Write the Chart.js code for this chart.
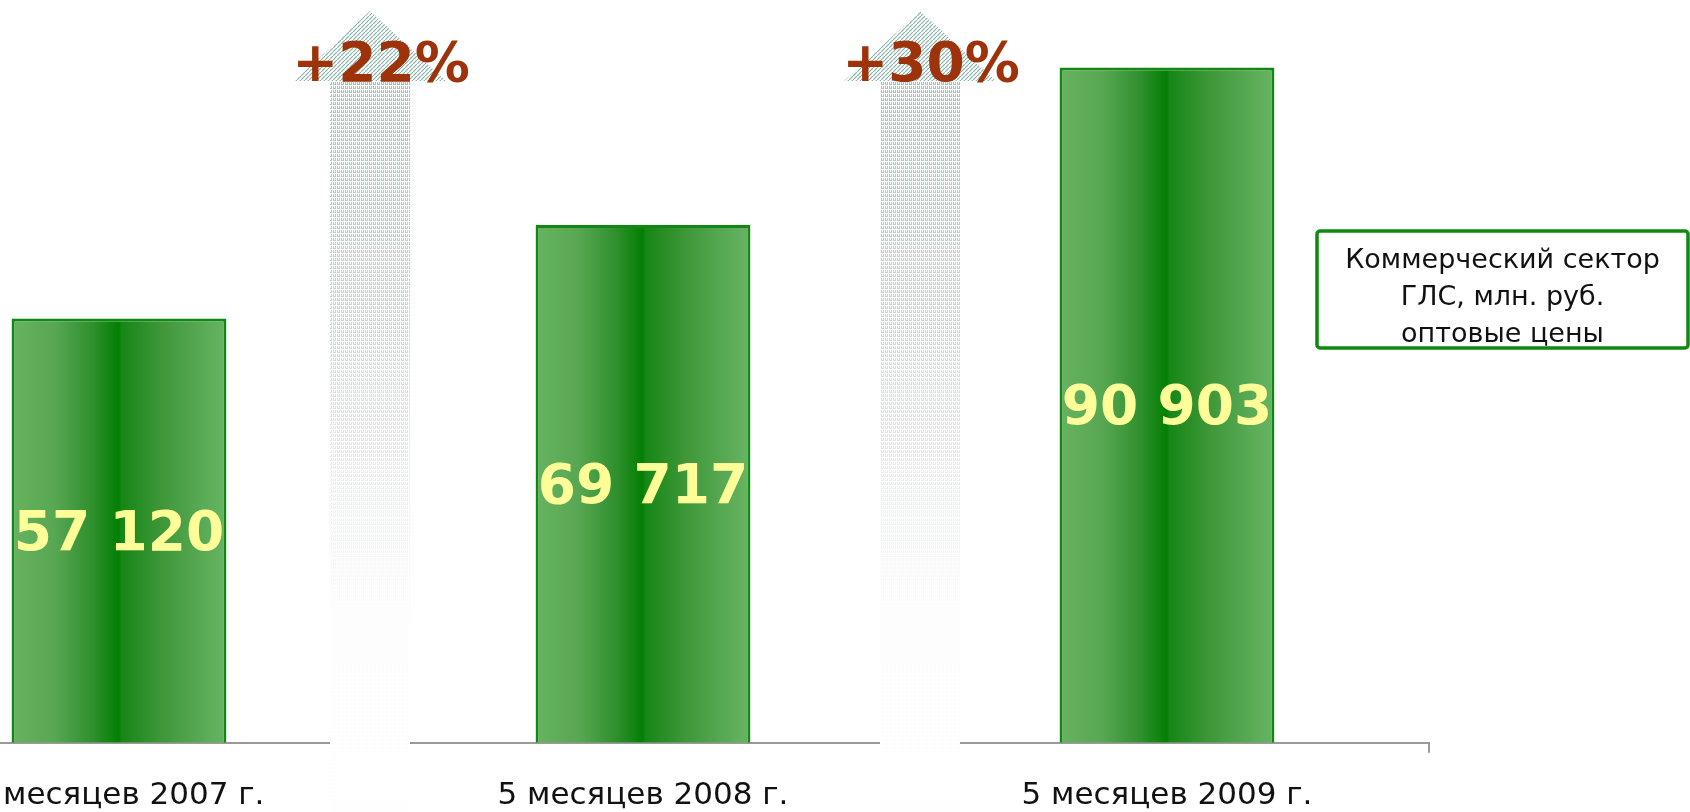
<!DOCTYPE html>
<html>
<head>
<meta charset="utf-8">
<script src="https://cdn.jsdelivr.net/npm/chart.js@4/dist/chart.umd.min.js"></script>
<style>
  html, body { margin: 0; padding: 0; background: #fff; overflow: hidden; width: 1690px; height: 812px; }
  #chart { position: absolute; left: -143px; top: 0; }
</style>
</head>
<body>
<canvas id="chart" width="1833" height="840"></canvas>
<script>
// данные
const categories = ['5 месяцев 2007 г.', '5 месяцев 2008 г.', '5 месяцев 2009 г.'];
const values = [57120, 69717, 90903];
const growthLabels = ['+22%', '+30%'];
const legendLines = ['Коммерческий сектор', 'ГЛС, млн. руб.', 'оптовые цены'];
const yMin = 0;
const yMax = 100000;

const barPct = 0.41;
const font = "'DejaVu Sans', Verdana, sans-serif";

function fmt(v) {
    return String(v).replace(/\B(?=(\d{3})+(?!\d))/g, ' ');
}

// градиент столбика
function barFill(context) {
    const chart = context.chart;
    const x = chart.scales.x;
    if (!x || context.dataIndex === undefined) return '#2f8f2f';
    const cx = x.getPixelForValue(context.dataIndex);
    const half = (x.width / categories.length) * barPct / 2;
    if (!isFinite(cx) || !isFinite(half) || half <= 0) return '#2f8f2f';
    const g = chart.ctx.createLinearGradient(cx - half, 0, cx + half, 0);
    g.addColorStop(0, '#66b260');
    g.addColorStop(0.2, '#58a752');
    g.addColorStop(0.38, '#2e8f2c');
    g.addColorStop(0.5, '#027f02');
    g.addColorStop(0.51, '#168616');
    g.addColorStop(0.7, '#3f9739');
    g.addColorStop(1, '#68b565');
    return g;
}

function makePattern(ctx, kind) {
    const p = document.createElement('canvas');
    p.width = 4; p.height = 4;
    const c = p.getContext('2d');
    c.fillStyle = '#ffffff';
    c.fillRect(0, 0, 4, 4);
    if (kind === 'hatch') {
        c.strokeStyle = '#86b3a8';
        c.lineWidth = 1.2;
        c.beginPath();
        c.moveTo(-1, 5); c.lineTo(5, -1);
        c.stroke();
    } else {
        c.fillStyle = '#a3c6bc';
        c.fillRect(0, 0, 3, 1);
        c.fillRect(0, 2, 1, 2);
        c.fillRect(2, 2, 1, 2);
    }
    return ctx.createPattern(p, 'repeat');
}

// стрелки роста
const arrowsPlugin = {
    id: 'arrows',
    afterDraw(chart, args, opts) {
        const ctx = chart.ctx;
        const x = chart.scales.x;
        const bottom = chart.height;
        ctx.save();
        growthLabels.forEach((lbl, i) => {
            const cx = (x.getPixelForValue(i) + x.getPixelForValue(i + 1)) / 2 + opts.shift[i];
            // стержень
            ctx.fillStyle = '#ffffff';
            ctx.fillRect(cx - opts.shaftHalf, opts.headBase, opts.shaftHalf * 2, bottom - opts.headBase);
            ctx.fillStyle = makePattern(ctx, 'dots');
            ctx.fillRect(cx - opts.shaftHalf, opts.headBase, opts.shaftHalf * 2, bottom - opts.headBase);
            const fade = ctx.createLinearGradient(0, opts.headBase, 0, bottom);
            fade.addColorStop(0, 'rgba(255,255,255,0)');
            fade.addColorStop(0.3, 'rgba(255,255,255,0.35)');
            fade.addColorStop(0.55, 'rgba(255,255,255,0.78)');
            fade.addColorStop(0.7, 'rgba(255,255,255,0.94)');
            fade.addColorStop(1, 'rgba(255,255,255,0.98)');
            ctx.fillStyle = fade;
            ctx.fillRect(cx - opts.shaftHalf, opts.headBase, opts.shaftHalf * 2, bottom - opts.headBase);
            // наконечник
            ctx.fillStyle = makePattern(ctx, 'hatch');
            ctx.beginPath();
            ctx.moveTo(cx, opts.tip);
            ctx.lineTo(cx + opts.headHalf, opts.headBase);
            ctx.lineTo(cx - opts.headHalf, opts.headBase);
            ctx.closePath();
            ctx.fill();
            // подпись
            ctx.fillStyle = '#9e320a';
            ctx.font = 'bold 55px ' + font;
            ctx.textAlign = 'center';
            ctx.textBaseline = 'middle';
            ctx.fillText(lbl, cx + opts.textShift, 67);
        });
        ctx.restore();
    }
};

// значения на столбиках
const valuesPlugin = {
    id: 'barValues',
    afterDatasetsDraw(chart) {
        const ctx = chart.ctx;
        const meta = chart.getDatasetMeta(0);
        const base = chart.scales.y.getPixelForValue(0);
        ctx.save();
        ctx.fillStyle = '#ffff99';
        ctx.font = 'bold 55px ' + font;
        ctx.textAlign = 'center';
        ctx.textBaseline = 'middle';
        meta.data.forEach((bar, i) => {
            ctx.fillText(fmt(values[i]), bar.x, (bar.y + base) / 2 + 5);
        });
        ctx.restore();
    }
};

// подпись-легенда в рамке
const boxPlugin = {
    id: 'legendBox',
    afterDraw(chart, args, opts) {
        const ctx = chart.ctx;
        ctx.save();
        ctx.fillStyle = '#ffffff';
        ctx.strokeStyle = '#118811';
        ctx.lineWidth = 3.5;
        ctx.beginPath();
        ctx.roundRect(opts.left, opts.top, opts.width, opts.height, 3);
        ctx.fill();
        ctx.stroke();
        ctx.fillStyle = '#111';
        ctx.font = '27px ' + font;
        ctx.textAlign = 'center';
        ctx.textBaseline = 'middle';
        legendLines.forEach((t, i) => {
            ctx.fillText(t, opts.left + opts.width / 2, opts.top + 30 + i * 37);
        });
        ctx.restore();
    }
};

new Chart(document.getElementById('chart'), {
    type: 'bar',
    data: {
        labels: categories,
        datasets: [{
            label: legendLines.join(' '),
            data: values,
            backgroundColor: barFill,
            borderColor: '#118811',
            borderWidth: 3,
            borderSkipped: 'bottom',
            barPercentage: barPct,
            categoryPercentage: 1
        }]
    },
    options: {
        responsive: false,
        animation: false,
        layout: { padding: { left: 0, right: 261, top: 0, bottom: 0 } },
        plugins: {
            legend: { display: false },
            tooltip: { enabled: false },
            arrows: { shift: [-11, 15], textShift: 11, tip: 11, headBase: 81, headHalf: 76, shaftHalf: 40 },
            legendBox: { left: 1460, top: 231, width: 371, height: 117 }
        },
        scales: {
            y: { display: false, min: yMin, max: yMax },
            x: {
                grid: { display: true, drawOnChartArea: false, tickLength: 10, color: '#9a9a9a', lineWidth: 2 },
                border: { display: true, color: '#9a9a9a', width: 2 },
                ticks: { color: '#111', padding: 25, font: { family: font, size: 31 }, maxRotation: 0 }
            }
        }
    },
    plugins: [valuesPlugin, arrowsPlugin, boxPlugin]
});
</script>
</body>
</html>
